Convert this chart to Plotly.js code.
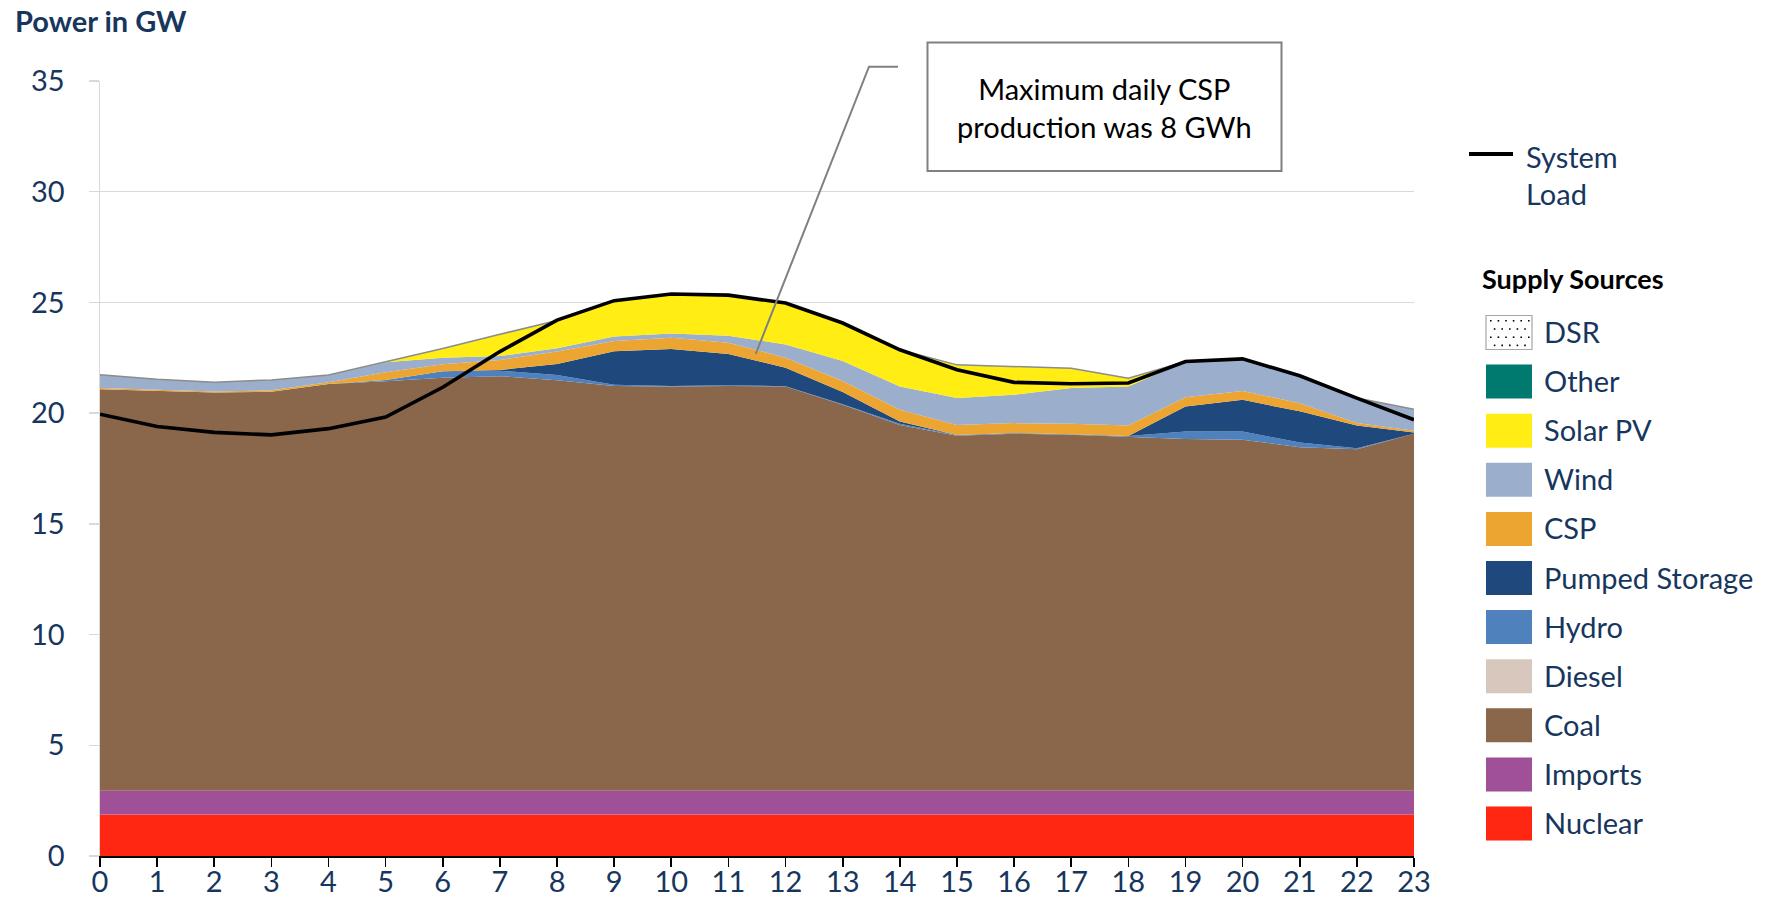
<!DOCTYPE html>
<html>
<head>
<meta charset="utf-8">
<script src="https://cdn.plot.ly/plotly-3.0.1.min.js"></script>
<style>
  html, body { margin: 0; padding: 0; background: #ffffff; }
  #chart { width: 1774px; height: 902px; }
</style>
</head>
<body>
<div id="chart"></div>
<script>
// ---------------- data (GW by hour) ----------------
const hours = [0,1,2,3,4,5,6,7,8,9,10,11,12,13,14,15,16,17,18,19,20,21,22,23];
const nuclear = [1.87,1.87,1.87,1.87,1.87,1.87,1.87,1.87,1.87,1.87,1.87,1.87,1.87,1.87,1.87,1.87,1.87,1.87,1.87,1.87,1.87,1.87,1.87,1.87];
const imports = [1.08,1.08,1.08,1.08,1.08,1.08,1.08,1.08,1.08,1.08,1.08,1.08,1.08,1.08,1.08,1.08,1.08,1.08,1.08,1.08,1.08,1.08,1.08,1.08];
const diesel  = [0,0,0,0,0,0,0,0,0,0,0,0,0,0,0,0,0,0,0,0,0,0,0,0];
const coal    = [18.13,18.05,17.98,18.02,18.37,18.49,18.65,18.72,18.54,18.28,18.25,18.28,18.25,17.43,16.52,16.03,16.12,16.07,15.97,15.88,15.85,15.51,15.42,16.12];
const hydro   = [0,0,0,0,0,0.06,0.29,0.25,0.23,0.05,0.03,0.03,0.02,0.02,0.05,0.03,0.03,0.03,0.05,0.34,0.37,0.21,0.05,0];
const pumped  = [0,0,0,0,0,0,0,0.03,0.5,1.52,1.67,1.41,0.83,0.55,0.1,0,0,0,0,1.13,1.43,1.41,1.02,0.06];
const csp     = [0.05,0.05,0.05,0.06,0.08,0.35,0.32,0.45,0.56,0.46,0.5,0.51,0.45,0.5,0.53,0.46,0.45,0.47,0.47,0.42,0.4,0.37,0.11,0.07];
const wind    = [0.6,0.48,0.42,0.47,0.32,0.45,0.29,0.18,0.15,0.2,0.2,0.32,0.6,0.9,1.05,1.21,1.28,1.61,1.76,1.61,1.45,1.24,1.13,0.98];
const solar   = [0,0,0,0,0,0.02,0.42,0.98,1.25,1.62,1.78,1.83,1.88,1.74,1.66,1.5,1.27,0.9,0.38,0,0,0,0,0];
const other   = [0,0,0,0,0,0,0,0,0,0,0,0,0,0,0,0,0,0,0,0,0,0,0,0];
const dsr     = [0,0,0,0,0,0,0,0,0,0,0,0,0,0,0,0,0,0,0,0,0,0,0,0];
const systemLoad = [19.95,19.4,19.13,19.02,19.3,19.82,21.17,22.78,24.2,25.08,25.38,25.33,24.97,24.07,22.86,21.96,21.39,21.33,21.36,22.33,22.45,21.69,20.68,19.7];

const yTicks = [0,5,10,15,20,25,30,35];
const titleText = 'Power in GW';
const noteText = 'Maximum daily CSP<br>production was 8 GWh';
const legendTitle = 'Supply Sources';
const loadName = 'System Load';

// stacking order (bottom to top) and colours
const seriesNames  = ['Nuclear','Imports','Diesel','Coal','Hydro','Pumped Storage','CSP','Wind','Solar PV','Other','DSR'];
const seriesValues = [nuclear, imports, diesel, coal, hydro, pumped, csp, wind, solar, other, dsr];
const seriesColors = ['#FF2712','#A05097','#D8C7BC','#8A664B','#4F81BD','#1F497D','#EDA532','#9BAFCD','#FFED14','#007A6E','#FFFFFF'];

// legend order (top to bottom)
const legendOrder = ['DSR','Other','Solar PV','Wind','CSP','Pumped Storage','Hydro','Diesel','Coal','Imports','Nuclear'];

// ---------------- layout helpers ----------------
const W = 1774, H = 902;
const M = {l: 100, r: 360, t: 81, b: 46};
const PW = W - M.l - M.r, PH = H - M.t - M.b;
const px = v => (v - M.l) / PW;          // pixel x -> paper
const py = v => (H - M.b - v) / PH;      // pixel y -> paper

const navy = '#17365D';
const FONT = 'Lato, "Open Sans", sans-serif';

const traces = seriesNames.map((name, i) => {
  const isDSR = name === 'DSR';
  return {
    type: 'scatter', mode: 'lines', name: name,
    x: hours, y: seriesValues[i],
    stackgroup: 'supply',
    fillcolor: isDSR ? 'rgba(0,0,0,0)' : seriesColors[i],
    line: isDSR ? {color: '#8C8C8C', width: 1.5} : {color: seriesColors[i], width: 0},
    hoverinfo: 'x+y+name', showlegend: false
  };
});
traces.push({
  type: 'scatter', mode: 'lines', name: loadName,
  x: hours, y: systemLoad,
  line: {color: '#000000', width: 3.6},
  showlegend: false
});

const shapes = [];
const annotations = [];

// title
annotations.push({xref:'paper', yref:'paper', x: px(13), y: py(20), xanchor:'left', yanchor:'middle',
  text: '<b>' + titleText + '</b>', showarrow:false, font:{family: FONT, size: 29, color: navy}});

// callout connector + box
shapes.push({type:'path', xref:'paper', yref:'paper',
  path: `M ${px(755.7)} ${py(354)} L ${px(869)} ${py(66.7)} L ${px(898)} ${py(66.7)}`,
  line:{color:'#808080', width:2}, layer:'above'});
shapes.push({type:'rect', xref:'paper', yref:'paper',
  x0: px(927.5), x1: px(1281.5), y0: py(171), y1: py(42.5),
  fillcolor:'#FFFFFF', line:{color:'#808080', width:2}, layer:'above'});
annotations.push({xref:'paper', yref:'paper', x: px(1104.5), y: py(108), xanchor:'center', yanchor:'middle',
  text: noteText, showarrow:false, align:'center',
  font:{family: FONT, size: 29, color:'#000000'}});

// legend: System Load
shapes.push({type:'line', xref:'paper', yref:'paper', x0: px(1469), x1: px(1513), y0: py(154), y1: py(154),
  line:{color:'#000000', width:4}});
annotations.push({xref:'paper', yref:'paper', x: px(1524), y: py(156), xanchor:'left', yanchor:'middle',
  text: 'System', showarrow:false, font:{family: FONT, size: 29, color: navy}});
annotations.push({xref:'paper', yref:'paper', x: px(1524), y: py(194), xanchor:'left', yanchor:'middle',
  text: 'Load', showarrow:false, font:{family: FONT, size: 29, color: navy}});
annotations.push({xref:'paper', yref:'paper', x: px(1480), y: py(278), xanchor:'left', yanchor:'middle',
  text: '<b>' + legendTitle + '</b>', showarrow:false, font:{family: FONT, size: 27, color:'#000000'}});

// legend: supply sources
const rowTop = 332.5, rowStep = 49.1, swH = 34, swX0 = 1486, swX1 = 1532;
legendOrder.forEach((name, k) => {
  const i = seriesNames.indexOf(name);
  const cy = rowTop + k * rowStep;
  if (name === 'DSR') {
    shapes.push({type:'rect', xref:'paper', yref:'paper', x0: px(swX0), x1: px(swX1), y0: py(cy + swH/2), y1: py(cy - swH/2),
      fillcolor:'#FFFFFF', line:{color:'#A6A6A6', width:1.2}});
    for (let r = 0; r < 4; r++) {
      for (let c = 0; c < 6; c++) {
        const dx = swX0 + 4 + c * 7.6 + (r % 2 ? 3.8 : 0);
        const dy = cy - swH/2 + 4.5 + r * 8.2;
        if (dx > swX1 - 2) continue;
        shapes.push({type:'rect', xref:'paper', yref:'paper', x0: px(dx), x1: px(dx + 1.6), y0: py(dy + 1.6), y1: py(dy),
          fillcolor:'#000000', line:{width:0}});
      }
    }
  } else {
    shapes.push({type:'rect', xref:'paper', yref:'paper', x0: px(swX0), x1: px(swX1), y0: py(cy + swH/2), y1: py(cy - swH/2),
      fillcolor: seriesColors[i], line:{width:0}});
  }
  annotations.push({xref:'paper', yref:'paper', x: px(1542), y: py(cy - 1), xanchor:'left', yanchor:'middle',
    text: name, showarrow:false, font:{family: FONT, size: 29, color: navy}});
});

const layout = {
  width: W, height: H,
  margin: M,
  paper_bgcolor: '#FFFFFF', plot_bgcolor: '#FFFFFF',
  showlegend: false,
  font: {family: FONT, color: navy},
  xaxis: {
    range: [0, 23], tickmode: 'array', tickvals: hours, ticktext: hours.map(String),
    showgrid: false, zeroline: false,
    showline: true, linecolor: '#000000', linewidth: 1.6,
    ticks: 'outside', ticklen: 9, tickwidth: 1.6, tickcolor: '#000000',
    ticklabelstandoff: -9,
    tickfont: {family: FONT, size: 29, color: navy}
  },
  yaxis: {
    range: [0, 35], tickmode: 'array', tickvals: yTicks, ticktext: yTicks.map(String),
    showgrid: true, gridcolor: '#D9D9D9', gridwidth: 1.5, zeroline: false,
    showline: true, linecolor: '#D9D9D9', linewidth: 1.5,
    ticks: 'outside', ticklen: 10, tickwidth: 1.5, tickcolor: '#D9D9D9',
    ticklabelstandoff: 18,
    tickfont: {family: FONT, size: 29, color: navy}
  },
  shapes: shapes,
  annotations: annotations
};

Plotly.newPlot('chart', traces, layout, {staticPlot: true, displayModeBar: false});
</script>
</body>
</html>
